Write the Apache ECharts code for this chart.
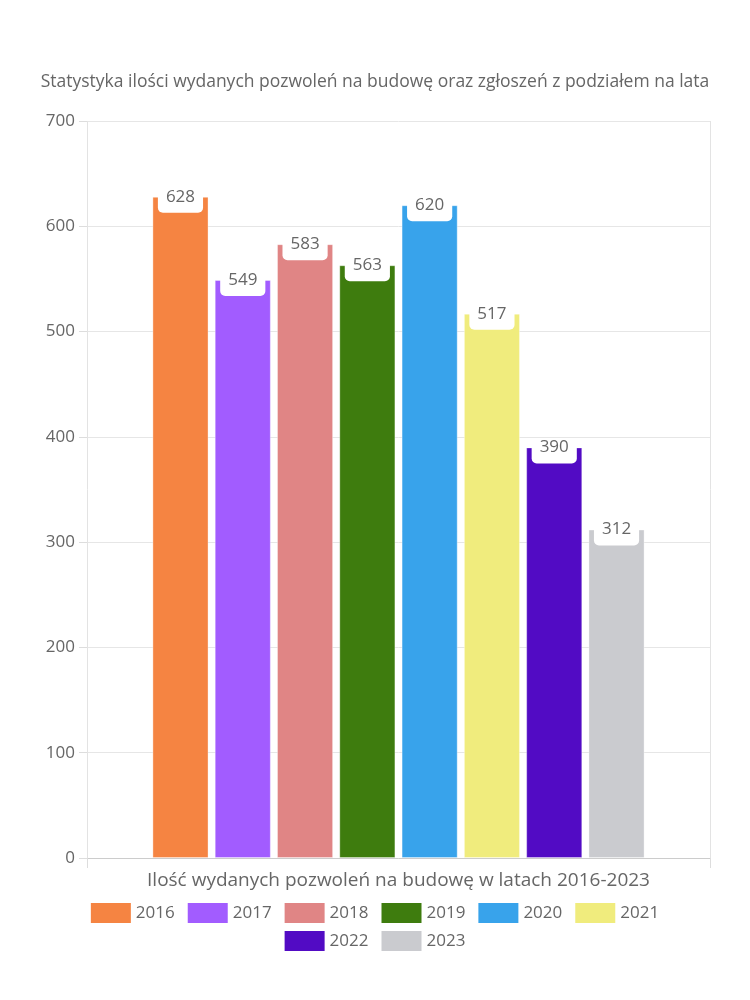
<!DOCTYPE html>
<html>
<head>
<meta charset="utf-8">
<script src="https://cdn.jsdelivr.net/npm/echarts@6/dist/echarts.min.js"></script>
<style>
html,body{margin:0;padding:0;background:#fff;}
#chart{width:750px;height:1000px;}
</style>
</head>
<body>
<div id="chart"></div>
<script>
const titleText = 'Statystyka ilości wydanych pozwoleń na budowę oraz zgłoszeń z podziałem na lata';
const axisName = 'Ilość wydanych pozwoleń na budowę w latach 2016-2023';
const years = ['2016','2017','2018','2019','2020','2021','2022','2023'];
const values = [628, 549, 583, 563, 620, 517, 390, 312];
const colors = ['#F58442','#A25CFF','#E08585','#3E7C0E','#38A3EB','#F0EC7D','#520BC4','#CACBCF'];
const categories = [''];
const legendRow1 = years.slice(0, 6);
const legendRow2 = years.slice(6);

const FONT = '"Open Sans", Lato, sans-serif';
const chart = echarts.init(document.getElementById('chart'), null, {renderer:'canvas'});

const series = years.map((y, i) => ({
  name: y,
  type: 'bar',
  data: [values[i]],
  barGap: '11%',
  barCategoryGap: '21%',
  itemStyle: { color: colors[i], borderColor: 'rgba(255,255,255,0.35)', borderWidth: 1 },
  label: {
    show: true,
    position: 'top',
    distance: -16,
    fontFamily: FONT,
    fontSize: 17,
    color: '#666',
    backgroundColor: '#fff',
    borderRadius: [0,0,5,5],
    padding: [0,8,8,8],
    lineHeight: 16
  }
}));

const legendBase = {
  left: 'center',
  icon: 'rect',
  itemWidth: 40,
  itemHeight: 20,
  itemGap: 13,
  itemStyle: { borderWidth: 0 },
  textStyle: { fontFamily: FONT, fontSize: 17, color: '#666' }
};

chart.setOption({
  animation: false,
  color: colors,
  textStyle: { fontFamily: FONT },
  title: {
    text: titleText,
    left: 'center',
    top: 68,
    textStyle: { fontFamily: FONT, fontSize: 17.5, fontWeight: 'normal', color: '#666' }
  },
  grid: { left: 87, right: 40, top: 121, bottom: 142, containLabel: false },
  legend: [
    Object.assign({}, legendBase, { data: legendRow1, top: 898 }),
    Object.assign({}, legendBase, { data: legendRow2, top: 926 })
  ],
  xAxis: {
    type: 'category',
    data: categories,
    name: axisName,
    nameLocation: 'middle',
    nameGap: 13,
    nameTextStyle: { fontFamily: FONT, fontSize: 19, color: '#666' },
    axisLine: { show: true, lineStyle: { color: '#ccc' } },
    axisTick: { show: true, length: 10, lineStyle: { color: '#ddd' } },
    axisLabel: { show: false },
    splitLine: { show: true, lineStyle: { color: '#e3e3e3' } }
  },
  yAxis: {
    type: 'value',
    min: 0,
    max: 700,
    interval: 100,
    axisLine: { show: false },
    axisTick: { show: true, length: 8, lineStyle: { color: '#ddd' } },
    axisLabel: { fontFamily: FONT, fontSize: 17, color: '#666', margin: 12 },
    splitLine: { show: true, lineStyle: { color: '#e6e6e6' } }
  },
  series: series
});
</script>
</body>
</html>
